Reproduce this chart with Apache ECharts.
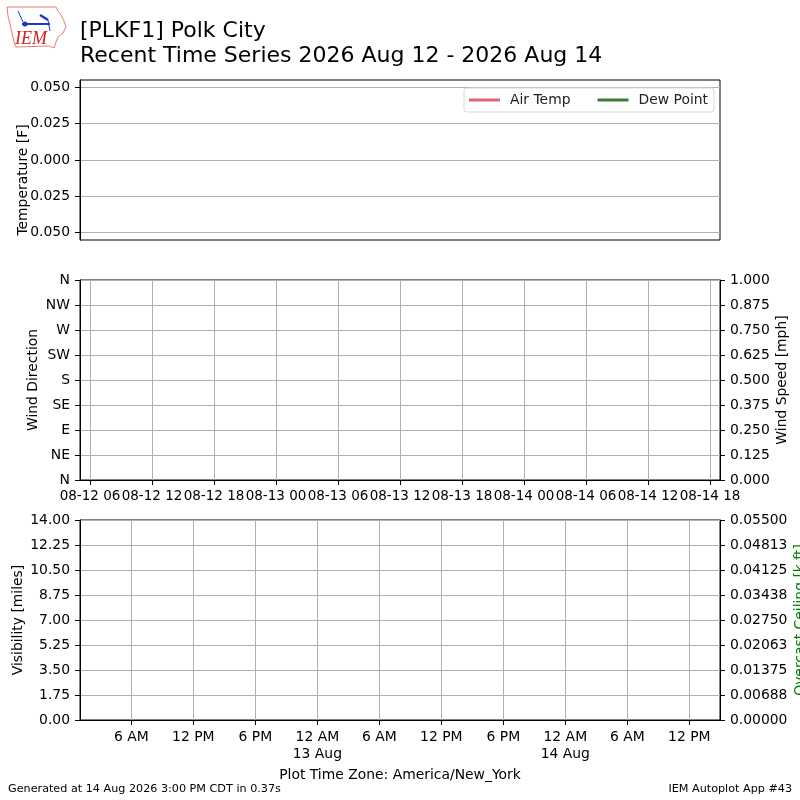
<!DOCTYPE html>
<html>
<head>
<meta charset="utf-8">
<title>[PLKF1] Polk City</title>
<script src="https://cdn.jsdelivr.net/npm/echarts@6/dist/echarts.min.js"></script>
<style>
  html, body { margin: 0; padding: 0; background: #fff; }
  #main { width: 800px; height: 800px; }
</style>
</head>
<body>
<div id="main"></div>
<script>
// hours since 2026-08-12 00:00 UTC
var timeMin = 5.03;
var timeMax = 66.97;

var utcTickHours = [6, 12, 18, 24, 30, 36, 42, 48, 54, 60, 66];
var utcTickLabels = ['08-12 06', '08-12 12', '08-12 18', '08-13 00', '08-13 06', '08-13 12',
    '08-13 18', '08-14 00', '08-14 06', '08-14 12', '08-14 18'];

var localTickHours = [10, 16, 22, 28, 34, 40, 46, 52, 58, 64];
var localTickLabels = ['6 AM', '12 PM', '6 PM', '12 AM\n13 Aug', '6 AM', '12 PM', '6 PM',
    '12 AM\n14 Aug', '6 AM', '12 PM'];

var tempTicks = [-0.05, -0.025, 0, 0.025, 0.05];
var tempTickLabels = ['0.050', '0.025', '0.000', '0.025', '0.050'];

var dirTickLabels = ['N', 'NE', 'E', 'SE', 'S', 'SW', 'W', 'NW', 'N'];
var speedTickLabels = ['0.000', '0.125', '0.250', '0.375', '0.500', '0.625', '0.750', '0.875', '1.000'];
var visTickLabels = ['0.00', '1.75', '3.50', '5.25', '7.00', '8.75', '10.50', '12.25', '14.00'];
var ceilTickLabels = ['0.00000', '0.00688', '0.01375', '0.02063', '0.02750', '0.03438',
    '0.04125', '0.04813', '0.05500'];

// no observations in this window
var airTemp = [];
var dewPoint = [];
var windDir = [];
var windSpeed = [];
var visibility = [];
var ceiling = [];

var FONT = 'DejaVu Sans';
var gridLine = { show: true, lineStyle: { color: '#b0b0b0', width: 1 } };
var blackLine = { show: true, onZero: false, lineStyle: { color: '#000', width: 1 } };
var tick = { show: true, inside: false, length: 5, lineStyle: { color: '#000', width: 1 } };
var lbl = { fontFamily: FONT, fontSize: 13.9, color: '#000' };

function byIndex(labels, step) {
    return function (v) {
        var i = Math.round(v / step);
        return labels[i] !== undefined ? labels[i] : '';
    };
}
function byList(values, labels) {
    return function (v) {
        for (var i = 0; i < values.length; i++) {
            if (Math.abs(values[i] - v) < 1e-6) return labels[i];
        }
        return '';
    };
}

var myChart = echarts.init(document.getElementById('main'), null, { renderer: 'canvas' });

var option = {
    backgroundColor: '#fff',
    animation: false,
    textStyle: { fontFamily: FONT },
    grid: [
        { left: 80, top: 80, width: 640, height: 160, show: true, borderColor: '#000', borderWidth: 1, containLabel: false },
        { left: 80, top: 280, width: 640, height: 200, show: true, borderColor: '#000', borderWidth: 1, containLabel: false },
        { left: 80, top: 520, width: 640, height: 200, show: true, borderColor: '#000', borderWidth: 1, containLabel: false }
    ],
    legend: {
        data: ['Air Temp', 'Dew Point'],
        left: 464,
        top: 88,
        orient: 'horizontal',
        icon: 'rect',
        itemWidth: 31,
        itemHeight: 3,
        itemGap: 27,
        padding: [5, 6, 5, 5],
        backgroundColor: '#fff',
        borderColor: '#d8d8d8',
        borderWidth: 1,
        borderRadius: 3,
        textStyle: { fontFamily: FONT, fontSize: 13.9, color: '#222', padding: [0, 0, 0, 5] }
    },
    xAxis: [
        {
            gridIndex: 0, type: 'value', min: timeMin, max: timeMax,
            axisLine: { show: false }, axisTick: { show: false }, axisLabel: { show: false }, splitLine: { show: false }
        },
        {
            gridIndex: 1, type: 'value', min: timeMin, max: timeMax,
            axisLine: blackLine,
            axisTick: Object.assign({ customValues: utcTickHours }, tick),
            axisLabel: {
                customValues: utcTickHours, margin: 9, showMinLabel: true, showMaxLabel: true, hideOverlap: false,
                fontFamily: FONT, fontSize: 13.5, color: '#000',
                formatter: byList(utcTickHours, utcTickLabels)
            },
            splitLine: gridLine
        },
        {
            gridIndex: 2, type: 'value', min: timeMin, max: timeMax,
            axisLine: blackLine,
            axisTick: Object.assign({ customValues: localTickHours }, tick),
            axisLabel: Object.assign({
                customValues: localTickHours, margin: 9, lineHeight: 17, showMinLabel: true, showMaxLabel: true, hideOverlap: false,
                formatter: byList(localTickHours, localTickLabels)
            }, lbl),
            splitLine: gridLine
        }
    ],
    yAxis: [
        {
            gridIndex: 0, type: 'value', min: -0.055, max: 0.055,
            axisLine: blackLine,
            axisTick: Object.assign({ customValues: tempTicks }, tick),
            axisLabel: Object.assign({ customValues: tempTicks, margin: 10, formatter: byList(tempTicks, tempTickLabels) }, lbl),
            splitLine: gridLine
        },
        {
            gridIndex: 1, type: 'value', min: 0, max: 360, interval: 45,
            axisLine: blackLine, axisTick: tick,
            axisLabel: Object.assign({ margin: 10, formatter: byIndex(dirTickLabels, 45) }, lbl),
            splitLine: gridLine
        },
        {
            gridIndex: 1, type: 'value', position: 'right', min: 0, max: 1, interval: 0.125,
            axisLine: blackLine, axisTick: tick,
            axisLabel: Object.assign({ margin: 10, formatter: byIndex(speedTickLabels, 0.125) }, lbl),
            splitLine: { show: false }
        },
        {
            gridIndex: 2, type: 'value', min: 0, max: 14, interval: 1.75,
            axisLine: blackLine, axisTick: tick,
            axisLabel: Object.assign({ margin: 10, formatter: byIndex(visTickLabels, 1.75) }, lbl),
            splitLine: gridLine
        },
        {
            gridIndex: 2, type: 'value', position: 'right', min: 0, max: 0.055, interval: 0.006875,
            axisLine: blackLine, axisTick: tick,
            axisLabel: Object.assign({ margin: 10, formatter: byIndex(ceilTickLabels, 0.006875) }, lbl),
            splitLine: { show: false }
        }
    ],
    series: [
        { name: 'Air Temp', type: 'line', xAxisIndex: 0, yAxisIndex: 0, data: airTemp, showSymbol: false, color: '#e06470', lineStyle: { width: 2 } },
        { name: 'Dew Point', type: 'line', xAxisIndex: 0, yAxisIndex: 0, data: dewPoint, showSymbol: false, color: '#3d7a3d', lineStyle: { width: 2 } },
        { name: 'Wind Direction', type: 'scatter', xAxisIndex: 1, yAxisIndex: 1, data: windDir, color: '#1f77b4' },
        { name: 'Wind Speed', type: 'line', xAxisIndex: 1, yAxisIndex: 2, data: windSpeed, showSymbol: false, color: '#ff7f0e' },
        { name: 'Visibility', type: 'line', xAxisIndex: 2, yAxisIndex: 3, data: visibility, showSymbol: false, color: '#000' },
        { name: 'Overcast Ceiling', type: 'line', xAxisIndex: 2, yAxisIndex: 4, data: ceiling, showSymbol: false, color: '#008000' }
    ],
    graphic: [
        // IEM logo
        {
            type: 'polyline', silent: true,
            shape: { points: [[7, 7], [56, 7], [58, 11], [61, 15], [64, 21], [66, 27], [63, 33], [58, 37], [56, 42], [54, 48], [49, 46], [16, 47], [14, 42], [12, 33], [10, 24], [8, 16], [7, 7]] },
            style: { stroke: '#e87a7a', lineWidth: 1, fill: null }
        },
        { type: 'line', silent: true, shape: { x1: 22, y1: 24, x2: 50, y2: 24 }, style: { stroke: '#2233cc', lineWidth: 2 } },
        { type: 'circle', silent: true, shape: { cx: 25, cy: 24, r: 2.5 }, style: { fill: '#2233cc' } },
        { type: 'line', silent: true, shape: { x1: 18, y1: 11, x2: 23, y2: 22 }, style: { stroke: '#2233cc', lineWidth: 1 } },
        { type: 'line', silent: true, shape: { x1: 40, y1: 15, x2: 48, y2: 20 }, style: { stroke: '#2233cc', lineWidth: 2.5 } },
        { type: 'line', silent: true, shape: { x1: 48, y1: 20, x2: 50, y2: 31 }, style: { stroke: '#2233cc', lineWidth: 1 } },
        { type: 'text', silent: true, x: 31, y: 39, style: { text: 'IEM', fontFamily: 'Liberation Serif', fontStyle: 'italic', fontSize: 18, fill: '#d42020', align: 'center', verticalAlign: 'middle' } },
        // titles
        { type: 'text', silent: true, x: 80, y: 31, style: { text: '[PLKF1] Polk City', fontFamily: FONT, fontSize: 22, fill: '#000', verticalAlign: 'middle' } },
        { type: 'text', silent: true, x: 80, y: 56, style: { text: 'Recent Time Series 2026 Aug 12 - 2026 Aug 14', fontFamily: FONT, fontSize: 22, fill: '#000', verticalAlign: 'middle' } },
        // axis names
        { type: 'text', silent: true, x: 23, y: 180, rotation: Math.PI / 2, style: { text: 'Temperature [F]', fontFamily: FONT, fontSize: 13.9, fill: '#000', align: 'center', verticalAlign: 'middle' } },
        { type: 'text', silent: true, x: 33, y: 380, rotation: Math.PI / 2, style: { text: 'Wind Direction', fontFamily: FONT, fontSize: 13.9, fill: '#000', align: 'center', verticalAlign: 'middle' } },
        { type: 'text', silent: true, x: 782, y: 380, rotation: Math.PI / 2, style: { text: 'Wind Speed [mph]', fontFamily: FONT, fontSize: 13.9, fill: '#000', align: 'center', verticalAlign: 'middle' } },
        { type: 'text', silent: true, x: 18, y: 620, rotation: Math.PI / 2, style: { text: 'Visibility [miles]', fontFamily: FONT, fontSize: 13.9, fill: '#000', align: 'center', verticalAlign: 'middle' } },
        { type: 'text', silent: true, x: 800, y: 620, rotation: Math.PI / 2, style: { text: 'Overcast Ceiling [k ft]', fontFamily: FONT, fontSize: 13.9, fill: '#008000', align: 'center', verticalAlign: 'middle' } },
        // footers
        { type: 'text', silent: true, x: 400, y: 775, style: { text: 'Plot Time Zone: America/New_York', fontFamily: FONT, fontSize: 13.9, fill: '#000', align: 'center', verticalAlign: 'middle' } },
        { type: 'text', silent: true, x: 8, y: 789, style: { text: 'Generated at 14 Aug 2026 3:00 PM CDT in 0.37s', fontFamily: FONT, fontSize: 11.2, fill: '#000', verticalAlign: 'middle' } },
        { type: 'text', silent: true, x: 792, y: 789, style: { text: 'IEM Autoplot App #43', fontFamily: FONT, fontSize: 11.2, fill: '#000', align: 'right', verticalAlign: 'middle' } }
    ]
};

myChart.setOption(option);
</script>
</body>
</html>
